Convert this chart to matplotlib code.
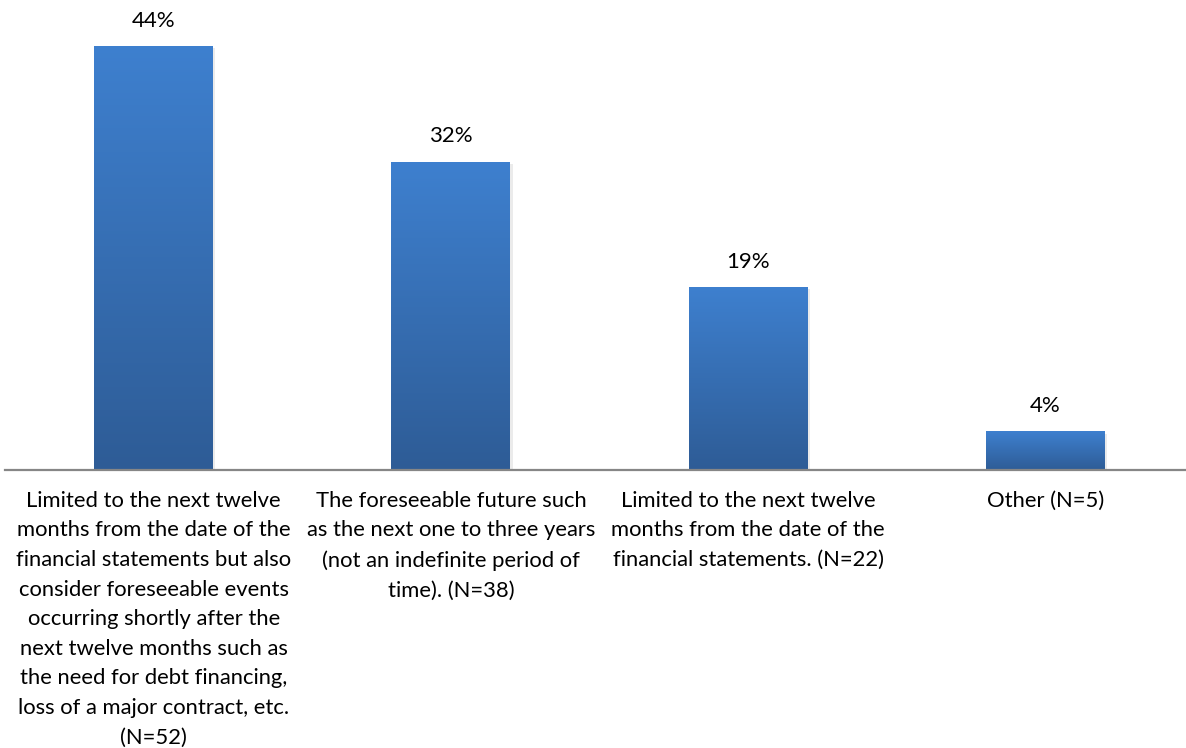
import matplotlib.pyplot as plt
import numpy as np
from matplotlib.colors import LinearSegmentedColormap

plt.rcParams['font.family'] = ['Lato', 'DejaVu Sans']

# Survey responses: period considered for going-concern assessment
categories = [
    "Limited to the next twelve\nmonths from the date of the\nfinancial statements but also\n"
    "consider foreseeable events\noccurring shortly after the\nnext twelve months such as\n"
    "the need for debt financing,\nloss of a major contract, etc.\n(N=52)",
    "The foreseeable future such\nas the next one to three years\n(not an indefinite period of\ntime). (N=38)",
    "Limited to the next twelve\nmonths from the date of the\nfinancial statements. (N=22)",
    "Other (N=5)",
]
percents = [44, 32, 19, 4]

fig = plt.figure(figsize=(11.86, 7.48), dpi=100)
# axes run a little past the right edge of the figure
ax = fig.add_axes([5 / 1186, 1 - 470 / 748, 1189 / 1186, 462.7 / 748])

x = np.arange(len(categories))
bars = ax.bar(x, percents, width=0.4, color='#3a74bd', zorder=2)

# vertical gradient fill, lighter at the top
grad = LinearSegmentedColormap.from_list('bar', ['#2e5c96', '#3e80cf'])
for b in bars:
    x0, w, h = b.get_x(), b.get_width(), b.get_height()
    # soft shadow
    ax.bar(x0 + w / 2 + 0.008, h, width=w, bottom=-0.25, color='#000000', alpha=0.08,
           zorder=1)
    im = ax.imshow(np.linspace(1, 0, 256).reshape(-1, 1), cmap=grad, aspect='auto',
                   extent=[x0, x0 + w, 0, h], zorder=3)
    im.set_clip_path(b)

for xi, p in zip(x, percents):
    ax.annotate(f"{p}%", (xi, p), xytext=(0, 11), textcoords='offset points',
                ha='center', va='bottom', fontsize=16, color='#000000')

ax.set_xlim(-0.5, 3.5)
ax.set_ylim(0, 48)
ax.set_xticks(x)
ax.set_xticklabels(categories, fontsize=15.8, linespacing=1.6)
ax.tick_params(axis='x', length=0, pad=15)
ax.set_yticks([])
for s in ['top', 'right', 'left']:
    ax.spines[s].set_visible(False)
ax.spines['bottom'].set_color('#868686')
ax.spines['bottom'].set_linewidth(1.6)
ax.spines['bottom'].set_zorder(4)

fig.savefig('out.png', dpi=100)
